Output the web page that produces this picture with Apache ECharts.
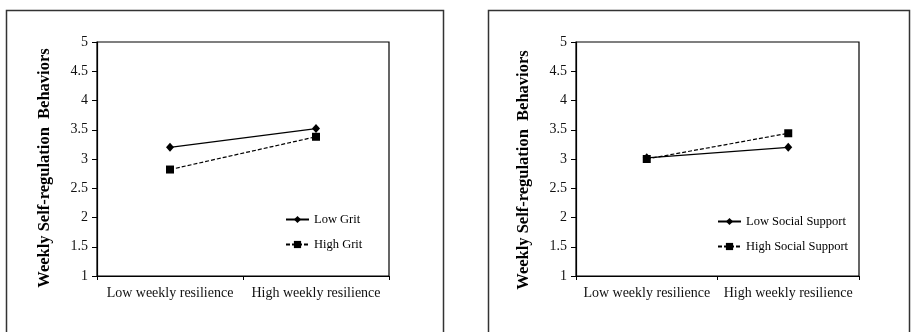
<!DOCTYPE html>
<html>
<head>
<meta charset="utf-8">
<script src="https://cdn.jsdelivr.net/npm/echarts@6/dist/echarts.min.js"></script>
<style>html,body{margin:0;padding:0;background:#fff;}#c{width:911px;height:332px;}</style>
</head>
<body>
<div id="c"></div>
<script>
var categories = ['Low weekly resilience', 'High weekly resilience'];
var yTicks = ['1', '1.5', '2', '2.5', '3', '3.5', '4', '4.5', '5'];
var yTitle = 'Weekly Self-regulation  Behaviors';
var lowGrit = [3.2, 3.52];
var highGrit = [2.82, 3.38];
var lowSocial = [3.02, 3.2];
var highSocial = [3.0, 3.44];
var names = ['Low Grit', 'High Grit', 'Low Social Support', 'High Social Support'];

var FONT = '"Liberation Serif", "Times New Roman", serif';
var chart = echarts.init(document.getElementById('c'), null, {renderer: 'canvas'});

function xAx(gi) {
  return {
    type: 'category', gridIndex: gi, data: categories, boundaryGap: true,
    axisLine: {lineStyle: {color: '#000', width: 1.2}},
    axisTick: {show: true, length: 4, lineStyle: {color: '#000'}},
    axisLabel: {fontFamily: FONT, fontSize: 14, color: '#111', margin: 10, interval: 0}
  };
}
function yAx(gi, padR) {
  return {
    type: 'value', gridIndex: gi, min: 1, max: 5, interval: 0.5,
    name: yTitle, nameLocation: 'middle', nameRotate: 90, nameGap: 44,
    nameTextStyle: {fontFamily: FONT, fontSize: 16.5, fontWeight: 'bold', color: '#000', padding: [0, padR, 0, 0]},
    axisLine: {show: true, lineStyle: {color: '#000', width: 1.2}},
    axisTick: {show: true, length: 5, lineStyle: {color: '#000'}},
    splitLine: {show: false},
    axisLabel: {fontFamily: FONT, fontSize: 14, color: '#111', margin: 9,
      formatter: function (v) { var s = String(Math.round(v * 10) / 10); return yTicks.indexOf(s) >= 0 ? s : ''; }}
  };
}
function ser(name, data, gi, dashed) {
  return {
    type: 'line', name: name, xAxisIndex: gi, yAxisIndex: gi, data: data,
    symbol: dashed ? 'rect' : 'diamond', symbolSize: dashed ? 8 : [8, 9],
    itemStyle: {color: '#000'},
    lineStyle: {color: '#000', width: 1.2, type: dashed ? [4, 2] : 'solid'},
    animation: false
  };
}

chart.setOption({
  animation: false,
  grid: [
    {left: 97, top: 42, width: 292, height: 234, show: true, borderColor: '#000', borderWidth: 1.2, backgroundColor: 'transparent'},
    {left: 576, top: 42, width: 283, height: 234, show: true, borderColor: '#000', borderWidth: 1.2, backgroundColor: 'transparent'}
  ],
  xAxis: [xAx(0), xAx(1)],
  yAxis: [yAx(0, 18), yAx(1, 22)],
  legend: [
    {data: [names[0], names[1]], orient: 'vertical', left: 280, top: 208, itemWidth: 23, itemHeight: 9, itemGap: 12,
      textStyle: {fontFamily: FONT, fontSize: 12.5, color: '#000'}},
    {data: [names[2], names[3]], orient: 'vertical', left: 712, top: 210, itemWidth: 23, itemHeight: 9, itemGap: 12,
      textStyle: {fontFamily: FONT, fontSize: 12.5, color: '#000'}}
  ],
  graphic: [
    {type: 'rect', shape: {x: 6.5, y: 10.5, width: 437, height: 400}, style: {fill: 'none', stroke: '#333', lineWidth: 1.5}, silent: true},
    {type: 'rect', shape: {x: 488.5, y: 10.5, width: 421, height: 400}, style: {fill: 'none', stroke: '#333', lineWidth: 1.5}, silent: true}
  ],
  series: [
    ser(names[0], lowGrit, 0, false),
    ser(names[1], highGrit, 0, true),
    ser(names[2], lowSocial, 1, false),
    ser(names[3], highSocial, 1, true)
  ]
});
</script>
</body>
</html>
